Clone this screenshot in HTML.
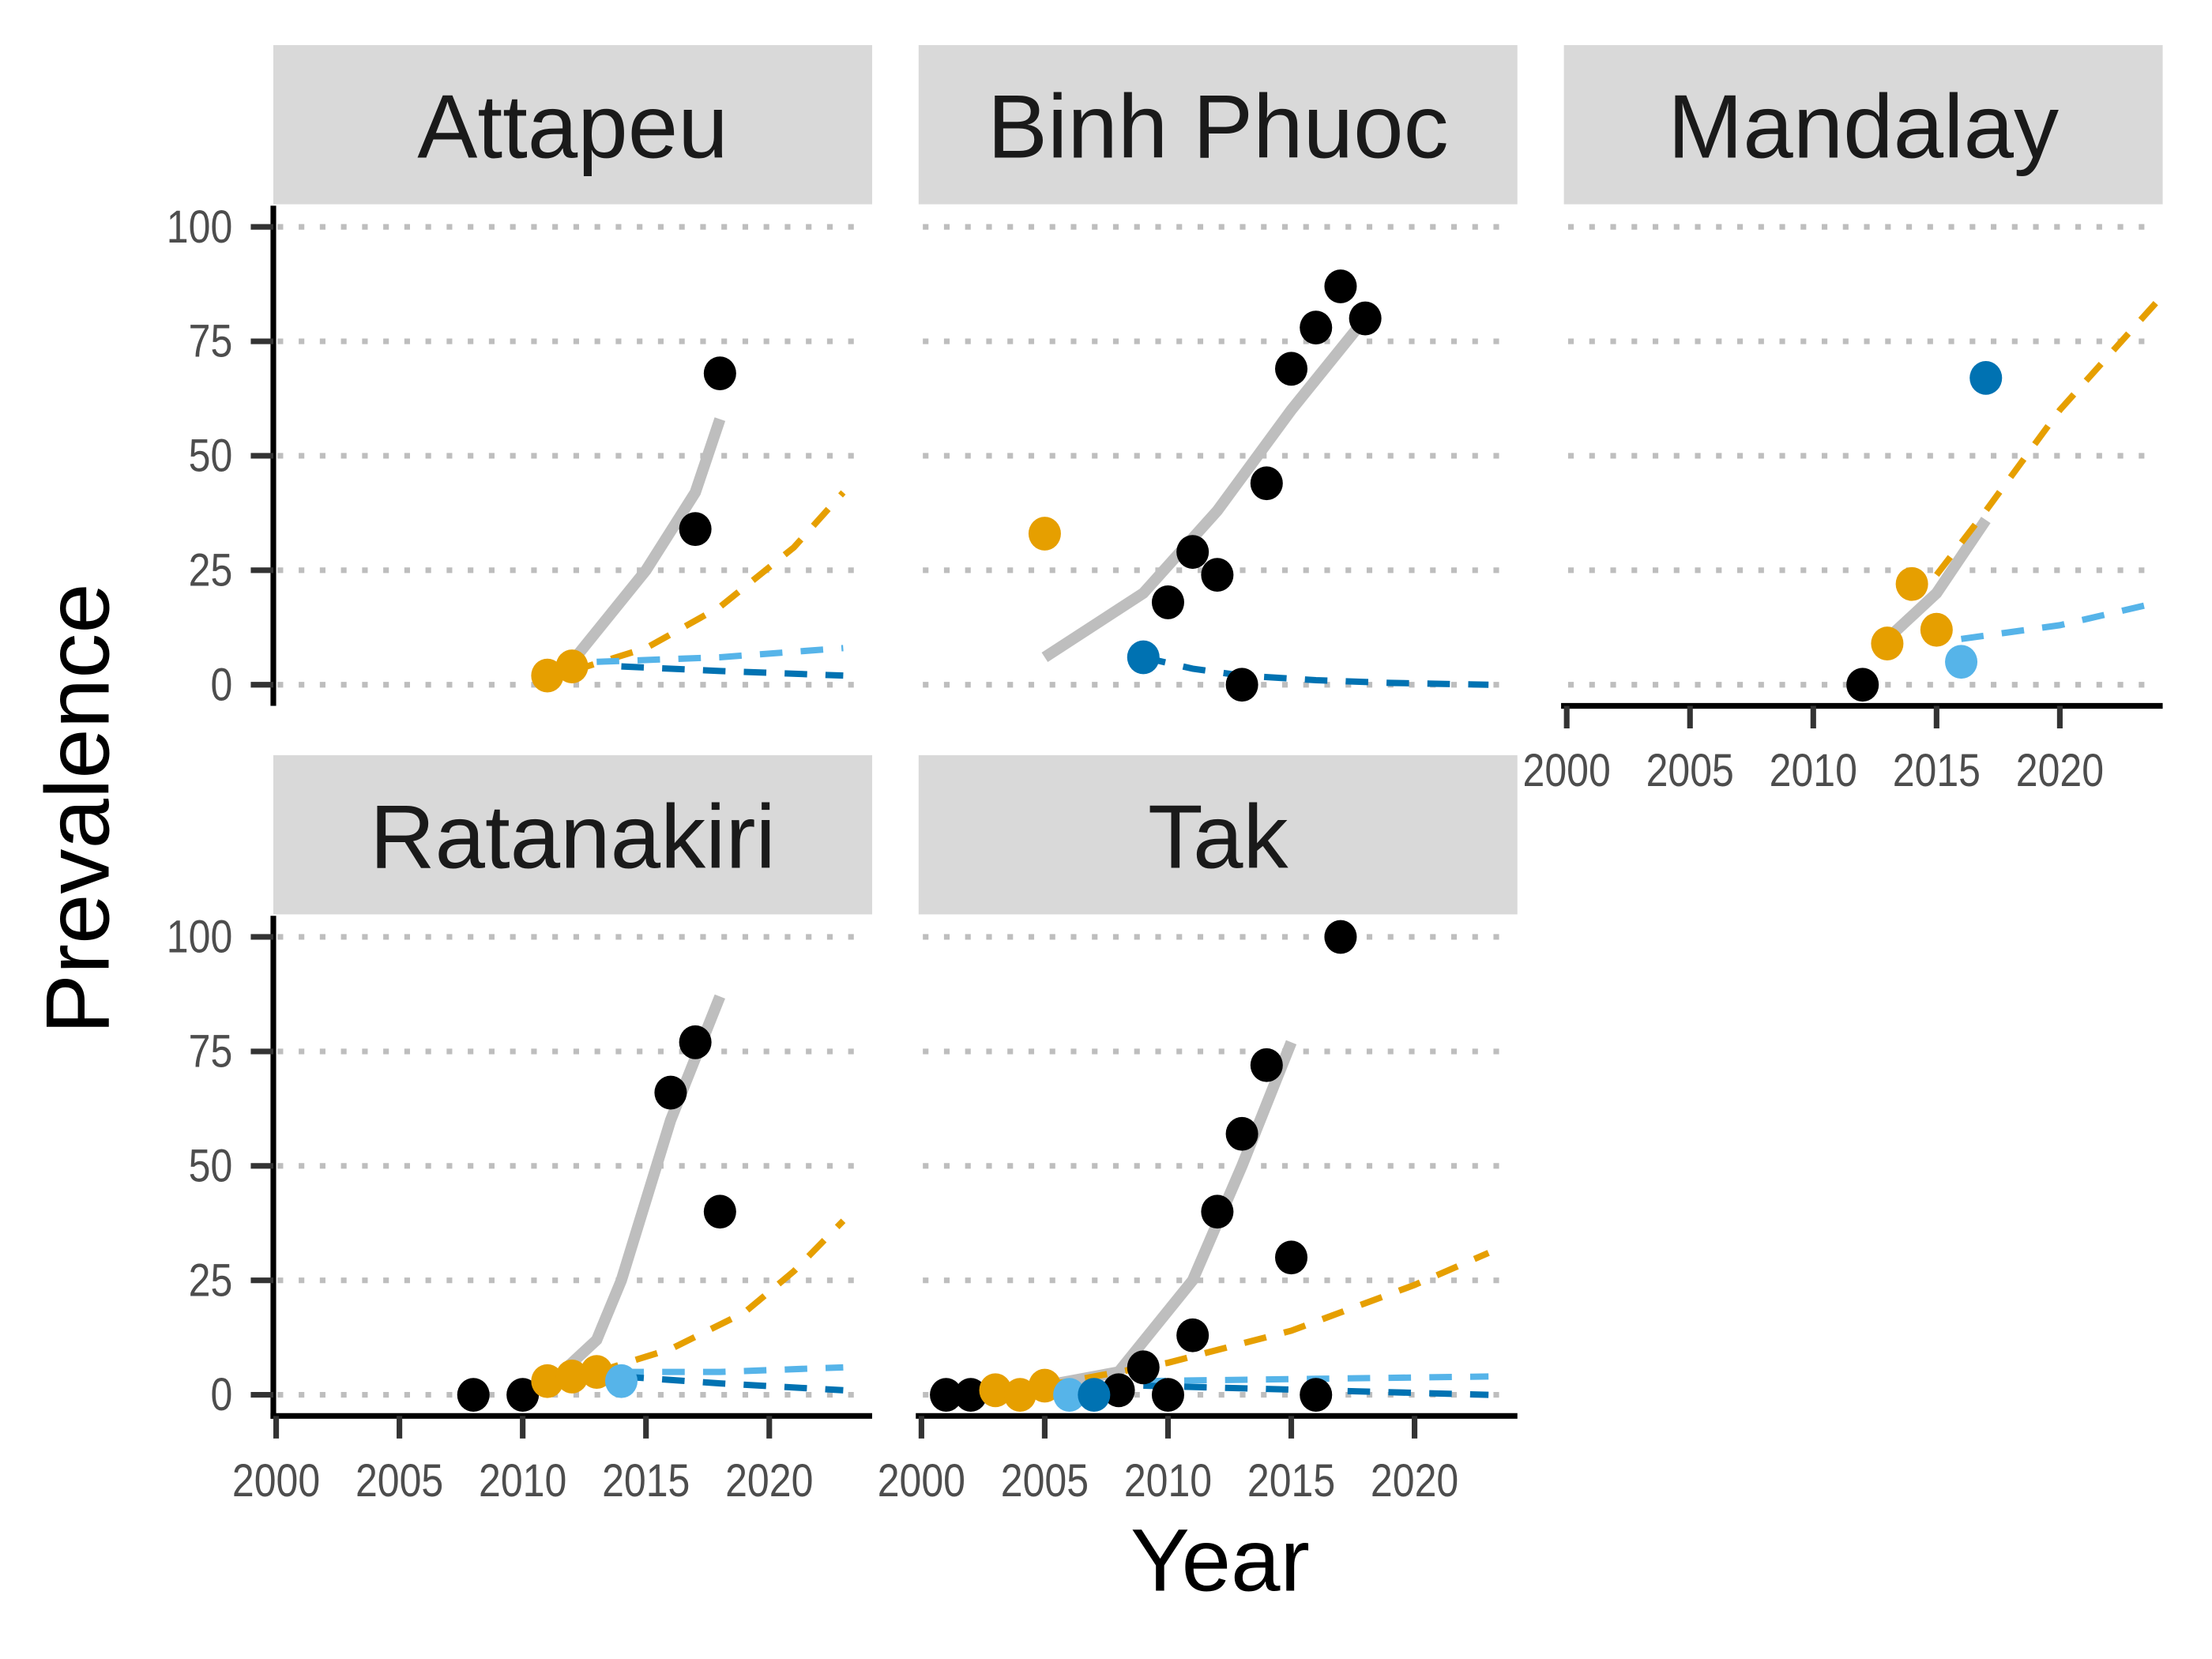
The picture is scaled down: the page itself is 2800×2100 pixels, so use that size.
<!DOCTYPE html>
<html><head><meta charset="utf-8"><style>
html,body{margin:0;padding:0;background:#fff}
svg{display:block}
text{font-family:"Liberation Sans",sans-serif}
</style></head><body>
<svg id="chart" xmlns="http://www.w3.org/2000/svg" width="2800" height="2100" viewBox="0 0 1570 1177.5">
<rect width="1570" height="1177.5" fill="#fff"/>
<g id="layer"></g>
<text x="0" y="0" transform="translate(77,574) rotate(-90)" text-anchor="middle" font-size="64" fill="#000">Prevalence</text>
<text x="866" y="1129" text-anchor="middle" font-size="63" fill="#000">Year</text>
</svg>
<script>
const xTicks=[2000,2005,2010,2015,2020];
const yTicks=[0,25,50,75,100];
const panelNames=["Attapeu","Binh Phuoc","Mandalay","Ratanakiri","Tak"];
// Attapeu
const attBlack=[[2017,34],[2018,68]];
const attOrange=[[2011,2],[2012,4]];
const attGray=[[2012,5],[2015,25],[2017,42],[2018,58]];
const attOrangeDash=[[2012,3],[2015,8],[2018,17],[2021,30],[2023,42]];
const attLightDash=[[2013,5],[2018,6],[2023,8]];
const attDarkDash=[[2014,4],[2018,3],[2023,2]];
// Binh Phuoc
const bpBlack=[[2010,18],[2011,29],[2012,24],[2013,0],[2014,44],[2015,69],[2016,78],[2017,87],[2018,80]];
const bpOrange=[[2005,33]];
const bpDark=[[2009,6]];
const bpGray=[[2005,6],[2009,20],[2012,38],[2015,60],[2018,80]];
const bpDarkDash=[[2009,6],[2011,3.5],[2013,2],[2016,1],[2019,0.4],[2023,0]];
// Mandalay
const mdBlack=[[2012,0]];
const mdOrange=[[2013,9],[2014,22],[2015,12]];
const mdLight=[[2016,5]];
const mdDark=[[2017,67]];
const mdGray=[[2013,10],[2015,20],[2017,36]];
const mdOrangeDash=[[2015,24],[2017,38],[2020,60],[2024,84]];
const mdLightDash=[[2016,10],[2020,13],[2024,18]];
// Ratanakiri
const rtBlack=[[2008,0],[2010,0],[2016,66],[2017,77],[2018,40]];
const rtOrange=[[2011,3],[2012,4],[2013,5]];
const rtLight=[[2014,3]];
const rtGray=[[2011,2],[2013,12],[2014,25],[2016,60],[2018,87]];
const rtOrangeDash=[[2013,5],[2016,10],[2019,18],[2021,27],[2023,38]];
const rtLightDash=[[2014,5],[2018,5],[2023,6]];
const rtDarkDash=[[2014,4],[2018,2.5],[2023,1]];
// Tak
const tkBlack=[[2001,0],[2002,0],[2008,1],[2009,6],[2010,0],[2011,13],[2012,40],[2013,57],[2014,72],[2015,30],[2016,0],[2017,100]];
const tkOrange=[[2003,1],[2004,0],[2005,2]];
const tkLight=[[2006,0]];
const tkDark=[[2007,0]];
const tkGray=[[2005,2],[2008,5],[2011,25],[2013,50],[2015,77]];
const tkOrangeDash=[[2005,2],[2010,7],[2015,14],[2020,24],[2023,31]];
const tkLightDash=[[2009,3],[2016,3.5],[2023,4]];
const tkDarkDash=[[2009,2],[2016,1],[2023,0]];

const NS="http://www.w3.org/2000/svg";
const layer=document.getElementById('layer');
function mk(tag,attrs,parent){const e=document.createElementNS(NS,tag);for(const k in attrs)e.setAttribute(k,attrs[k]);(parent||layer).appendChild(e);return e;}
const C={black:"#000",orange:"#E69F00",light:"#56B4E9",dark:"#0072B2",gray:"#BEBEBE"};
const panels=[
 {name:panelNames[0],x0:194,top:32,yaxis:true,xaxis:false,
  pts:[[attOrange,C.orange],[attBlack,C.black]],gray:attGray,dash:[[attOrangeDash,C.orange],[attLightDash,C.light],[attDarkDash,C.dark]]},
 {name:panelNames[1],x0:652,top:32,yaxis:false,xaxis:false,
  pts:[[bpOrange,C.orange],[bpDark,C.dark],[bpBlack,C.black]],gray:bpGray,dash:[[bpDarkDash,C.dark]]},
 {name:panelNames[2],x0:1110,top:32,yaxis:false,xaxis:true,
  pts:[[mdBlack,C.black],[mdOrange,C.orange],[mdLight,C.light],[mdDark,C.dark]],gray:mdGray,dash:[[mdOrangeDash,C.orange],[mdLightDash,C.light]]},
 {name:panelNames[3],x0:194,top:536,yaxis:true,xaxis:true,
  pts:[[rtBlack,C.black],[rtOrange,C.orange],[rtLight,C.light]],gray:rtGray,dash:[[rtOrangeDash,C.orange],[rtLightDash,C.light],[rtDarkDash,C.dark]]},
 {name:panelNames[4],x0:652,top:536,yaxis:false,xaxis:true,
  pts:[[tkBlack,C.black],[tkOrange,C.orange],[tkLight,C.light],[tkDark,C.dark]],gray:tkGray,dash:[[tkOrangeDash,C.orange],[tkLightDash,C.light],[tkDarkDash,C.dark]]}
];
panels.forEach(p=>{
 const W=425, slug=p.name.toLowerCase().replace(/ /g,'-');
 const g=mk('g',{});
 
 
 const sx=v=>p.x0+2+(v-2000)*17.5;
 const y0=p.top+454, sy=v=>y0-v*3.25;
 const s=mk('rect',{x:p.x0,y:p.top,width:W,height:113,fill:"#D9D9D9"},g);
 
 
 const t=mk('text',{x:p.x0+W/2,y:p.top+80,'text-anchor':'middle','font-size':64,fill:'#1A1A1A'},g);
 t.textContent=p.name;
 
 
 yTicks.forEach(v=>{
  const l=mk('line',{x1:p.x0+3,x2:p.x0+W-12,y1:sy(v),y2:sy(v),stroke:"#BEBEBE","stroke-width":4,"stroke-dasharray":"4,11"},g);
  
  
 });
 const bottom=p.top+469;
 if(p.yaxis){
  mk('line',{x1:p.x0,x2:p.x0,y1:p.top+114,y2:bottom+(p.xaxis?2:0),stroke:"#000","stroke-width":4},g);
  yTicks.forEach(v=>{
   mk('line',{x1:p.x0-16,x2:p.x0,y1:sy(v),y2:sy(v),stroke:"#333","stroke-width":4},g);
   const tl=mk('text',{x:0,y:0,transform:`translate(${p.x0-29},${sy(v)+11}) scale(0.85,1)`,'text-anchor':'end','font-size':33,fill:'#4D4D4D'},g);
   tl.textContent=v;
   
   
  });
 }
 if(p.xaxis){
  mk('line',{x1:p.x0-2,x2:p.x0+W,y1:bottom,y2:bottom,stroke:"#000","stroke-width":4},g);
  xTicks.forEach(v=>{
   mk('line',{x1:sx(v),x2:sx(v),y1:bottom,y2:bottom+16,stroke:"#333","stroke-width":4},g);
   const tl=mk('text',{x:0,y:0,transform:`translate(${sx(v)},${bottom+57}) scale(0.85,1)`,'text-anchor':'middle','font-size':33,fill:'#4D4D4D'},g);
   tl.textContent=v;
   
   
  });
 }
 const pl=mk('polyline',{points:p.gray.map(d=>sx(d[0])+','+sy(d[1])).join(' '),fill:'none',stroke:C.gray,'stroke-width':8},g);
 
 
 p.dash.forEach(([arr,col])=>{
  const d=mk('polyline',{points:arr.map(q=>sx(q[0])+','+sy(q[1])).join(' '),fill:'none',stroke:col,'stroke-width':4.5,'stroke-dasharray':'16,13'},g);
  
  
 });
 p.pts.forEach(([arr,col])=>arr.forEach(q=>{
  const c=mk('ellipse',{cx:sx(q[0]),cy:sy(q[1]),rx:11.5,ry:12,fill:col},g);
  
  
 }));
});
</script>
</body></html>
